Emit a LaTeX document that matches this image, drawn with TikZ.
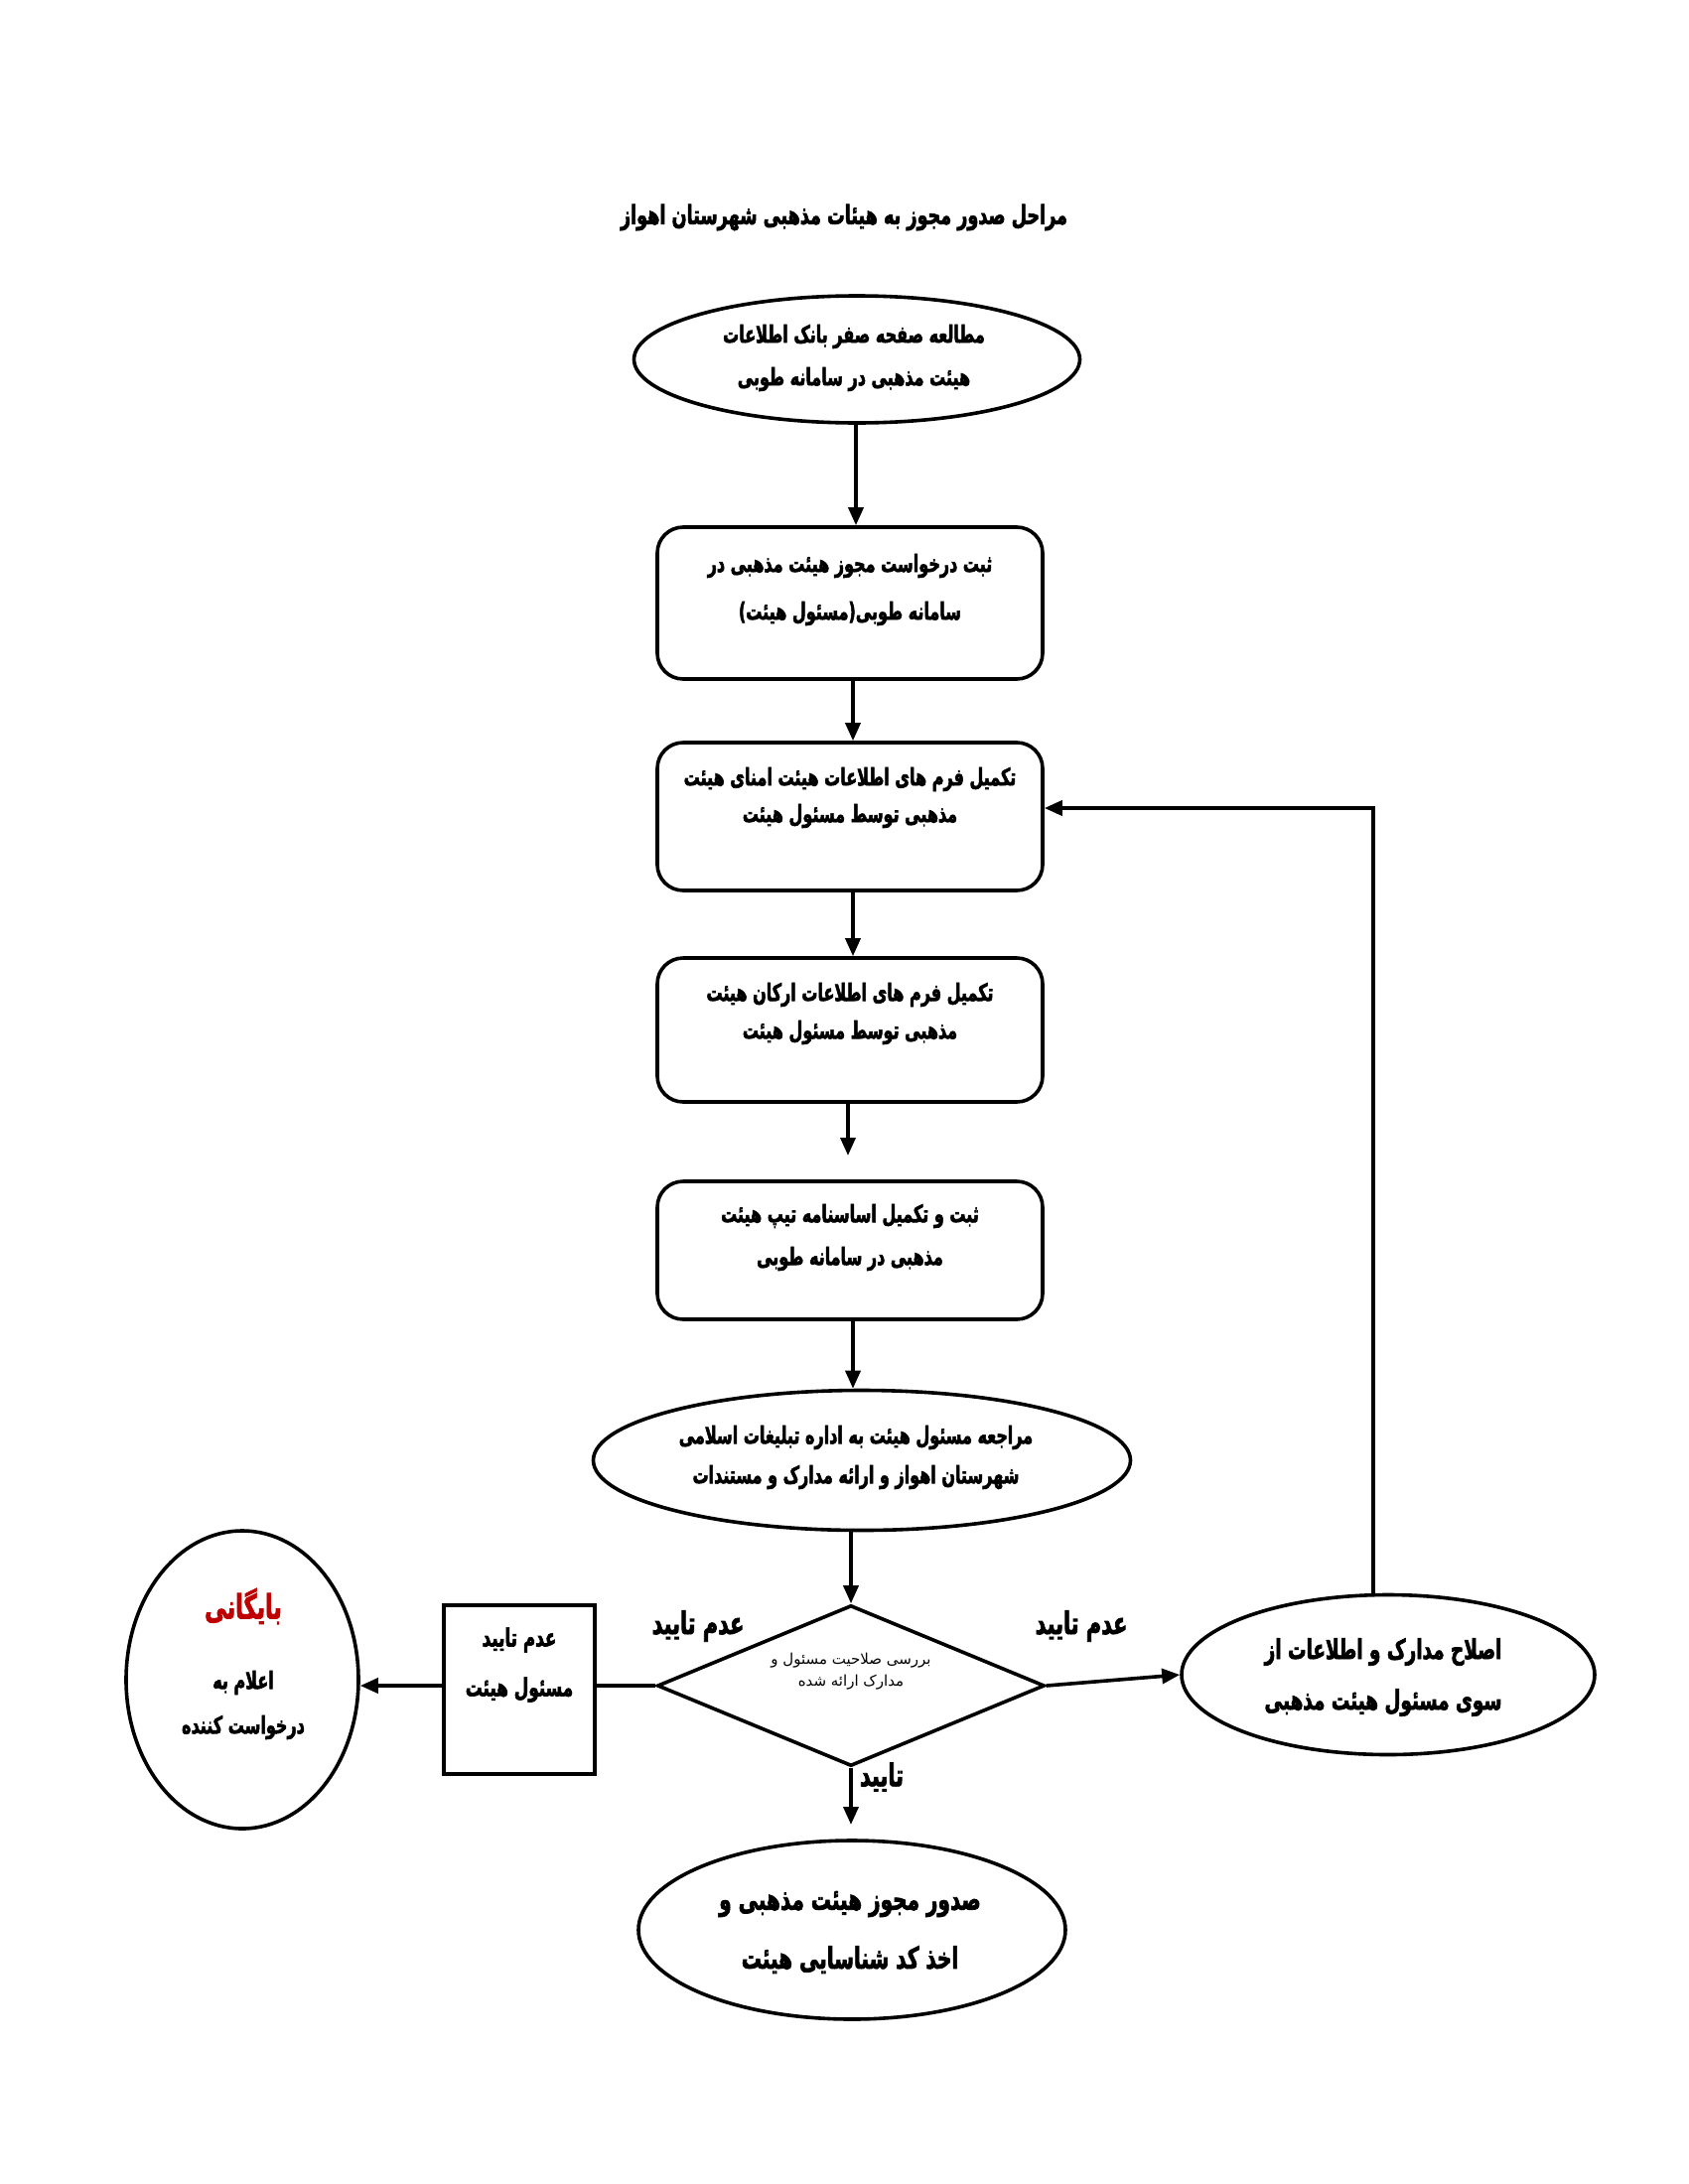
\documentclass[tikz,border=0pt]{standalone}
\usepackage{fontspec}
\usetikzlibrary{shapes.geometric,arrows.meta}
\TeXXeTstate=1
\newfontfamily\arabicfont[Script=Arabic,FakeStretch=0.8,BoldFeatures={FakeBold=2.5}]{DejaVu Sans}
\newfontfamily\arabicplain[Script=Arabic]{DejaVu Sans}
\newcommand{\fa}[1]{\scalebox{1}[1.2]{\beginR #1\endR}}
\definecolor{darkred}{RGB}{192,0,0}
\tikzset{
  lw/.style={line width=3.6pt},
  arr/.style={lw,-{Triangle[length=18pt,width=15pt]}},
  stepbox/.style={draw,lw,rounded corners=26pt,minimum width=388pt,inner sep=0pt},
  ell/.style={draw,ellipse,lw,inner sep=0pt},
  txt/.style={align=center,inner sep=0pt},
  bf/.style={font=\arabicfont\bfseries\fontsize{#1}{#1}\selectfont},
}
\begin{document}
\begin{tikzpicture}[x=1pt,y=-1pt]
\useasboundingbox (0,0) rectangle (1700,2200);
\fill[white] (0,0) rectangle (1700,2200);
% title
\node[txt,bf=22] (title) at (850,219) {\fa{مراحل صدور مجوز به هیئات مذهبی شهرستان اهواز}};
% ellipse 1
\node[ell,minimum width=449pt,minimum height=128pt] (e1) at (863,362) {};
\node[txt,bf=20] (t1a) at (860,339) {\fa{مطالعه صفحه صفر بانک اطلاعات}};
\node[txt,bf=20] (t1b) at (860,382) {\fa{هیئت مذهبی در سامانه طوبی}};
% box 2
\node[stepbox,minimum height=153pt] (b2) at (856,607.5) {};
\node[txt,bf=20] (t2a) at (856,570) {\fa{ثبت درخواست مجوز هیئت مذهبی در}};
\node[txt,bf=20] (t2b) at (856,618) {\fa{سامانه طوبی(مسئول هیئت)}};
% box 3
\node[stepbox,minimum height=149pt] (b3) at (856,822.5) {};
\node[txt,bf=20] (t3a) at (856,785) {\fa{تکمیل فرم های اطلاعات هیئت امنای هیئت}};
\node[txt,bf=20] (t3b) at (856,822) {\fa{مذهبی توسط مسئول هیئت}};
% box 4
\node[stepbox,minimum height=145pt] (b4) at (856,1037.5) {};
\node[txt,bf=20] (t4a) at (856,1002) {\fa{تکمیل فرم های اطلاعات ارکان هیئت}};
\node[txt,bf=20] (t4b) at (856,1040) {\fa{مذهبی توسط مسئول هیئت}};
% box 5
\node[stepbox,minimum height=139pt] (b5) at (856,1259.5) {};
\node[txt,bf=20] (t5a) at (856,1225) {\fa{ثبت و تکمیل اساسنامه تیپ هیئت}};
\node[txt,bf=20] (t5b) at (856,1268) {\fa{مذهبی در سامانه طوبی}};
% ellipse 6
\node[ell,minimum width=541pt,minimum height=141pt] (e6) at (868,1471) {};
\node[txt,bf=20] (t6a) at (862,1448) {\fa{مراجعه مسئول هیئت به اداره تبلیغات اسلامی}};
\node[txt,bf=20] (t6b) at (862,1488) {\fa{شهرستان اهواز و ارائه مدارک و مستندات}};
% diamond
\node[draw,diamond,lw,minimum width=390pt,minimum height=162pt,inner sep=0pt] (d) at (857,1698) {};
\node[txt,font=\arabicplain\fontsize{15}{15}\selectfont] (tda) at (857,1673) {\beginR بررسی صلاحیت مسئول و\endR};
\node[txt,font=\arabicplain\fontsize{15}{15}\selectfont] (tdb) at (857,1695) {\beginR مدارک ارائه شده\endR};
% labels
\node[txt,bf=26] (l1) at (703,1638) {\fa{عدم تایید}};
\node[txt,bf=26] (l2) at (1089,1638) {\fa{عدم تایید}};
\node[txt,bf=26] (l3) at (888,1790) {\fa{تایید}};
% left box
\node[draw,lw,minimum width=152pt,minimum height=170pt,inner sep=0pt] (lb) at (523,1702) {};
\node[txt,bf=21] (tlba) at (523,1652) {\fa{عدم تایید}};
\node[txt,bf=21] (tlbb) at (523,1702) {\fa{مسئول هیئت}};
% left ellipse
\node[ell,minimum width=234pt,minimum height=300pt] (ea) at (244,1692) {};
\node[txt,bf=28,text=darkred] (ta1) at (245,1618) {\fa{بایگانی}};
\node[txt,bf=20] (ta2) at (245,1695) {\fa{اعلام به}};
\node[txt,bf=20] (ta3) at (245,1740) {\fa{درخواست کننده}};
% right ellipse
\node[ell,minimum width=416pt,minimum height=161pt] (er) at (1398,1687) {};
\node[txt,bf=23] (tera) at (1393,1664) {\fa{اصلاح مدارک و اطلاعات از}};
\node[txt,bf=23] (terb) at (1393,1715) {\fa{سوی مسئول هیئت مذهبی}};
% bottom ellipse
\node[ell,minimum width=430pt,minimum height=180pt] (eb) at (858,1944) {};
\node[txt,bf=25] (teba) at (856,1918) {\fa{صدور مجوز هیئت مذهبی و}};
\node[txt,bf=25] (tebb) at (856,1974) {\fa{اخذ کد شناسایی هیئت}};
% connectors
\coordinate (c1) at (862,0);
\coordinate (c2) at (859,0);
\coordinate (g1) at (854,1164);
\coordinate (g2) at (857,1838);
\coordinate (fb) at (1383,814);
\draw[arr] (e1.south -| c1) -- (b2.north -| c1);
\draw[arr] (b2.south -| c2) -- (b3.north -| c2);
\draw[arr] (b3.south -| c2) -- (b4.north -| c2);
\draw[arr] (b4.south -| g1) -- (g1);
\draw[arr] (b5.south -| c2) -- (e6.north -| c2);
\draw[arr] (e6.south -| d.north) -- (d.north);
\draw[lw] (d.west) -- (lb.east |- d.west);
\draw[arr] (lb.west |- d.west) -- (ea.east |- d.west);
\draw[arr] (d.east) -- (er.west);
\draw[arr] (d.south) -- (g2);
\draw[arr] (er.north -| fb) -- (fb) -- (b3.east |- fb);
\end{tikzpicture}
\end{document}
